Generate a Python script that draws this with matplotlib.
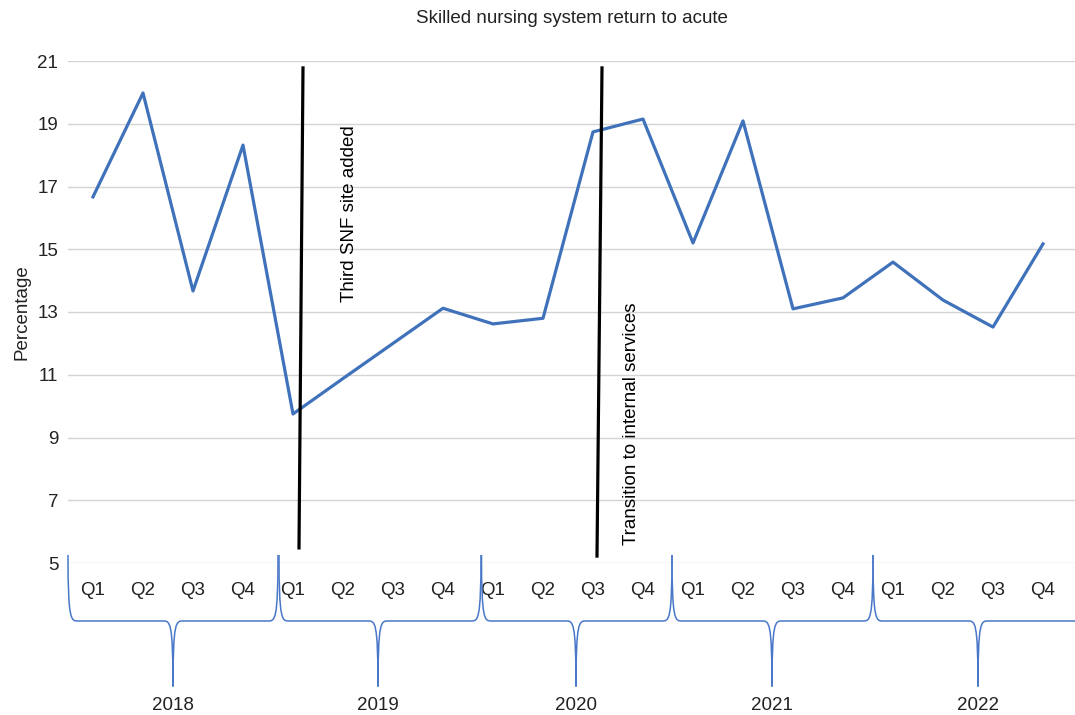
import matplotlib
matplotlib.use("Agg")
import matplotlib.pyplot as plt
import matplotlib.transforms as mtransforms
from matplotlib.path import Path
from matplotlib.patches import PathPatch

plt.rcParams['font.family'] = ['Liberation Sans', 'DejaVu Sans']

# Quarterly return-to-acute rate (%)
quarters = ["Q1", "Q2", "Q3", "Q4"] * 5
years = ["2018", "2019", "2020", "2021", "2022"]
rates = [16.67, 19.98, 13.67, 18.32,
         9.75, 10.88, 12.0, 13.12,
         12.62, 12.8, 18.74, 19.15,
         15.2, 19.09, 13.1, 13.45,
         14.59, 13.38, 12.52, 15.17]

# Event markers: (x top, y top, x bottom, y bottom), label, label position
events = [
    ((4.2, 20.78, 4.12, 5.48), "Third SNF site added", (5.14, 16.12)),
    ((10.18, 20.78, 10.08, 5.22), "Transition to internal services", (10.76, 9.45)),
]

# Year brace spans on the quarter axis (start, middle, end)
brace_starts = [-0.5, 3.72, 7.77, 11.58, 15.6]
brace_mids = [1.6, 5.7, 9.66, 13.58, 17.7]
brace_ends = [3.7, 7.76, 11.58, 15.6, 19.9]

FS = 13.5

fig = plt.figure(figsize=(10.75, 7.15), dpi=100)
ax = fig.add_axes([68 / 1075, 1 - 563 / 715, 1 - 68 / 1075, 502 / 715])

x = list(range(len(rates)))
ax.plot(x, rates, color="#3F72BA", linewidth=2.3, zorder=3)

for (x0, y0, x1, y1), label, (tx, ty) in events:
    ax.plot([x0, x1], [y0, y1], color="black", linewidth=2.3, zorder=4, clip_on=False)
    ax.text(tx, ty, label, rotation=90, ha="center", va="center", fontsize=FS)

ax.set_xlim(-0.5, 19.64)
ax.set_ylim(5, 21)
ax.set_yticks(range(5, 22, 2))
ax.set_xticks(x)
ax.set_xticklabels(quarters)
ax.tick_params(axis="both", length=0, labelsize=FS, colors="#222222")
ax.tick_params(axis="x", pad=14)
ax.tick_params(axis="y", pad=7)
ax.grid(axis="y", color="#d4d4d4", linewidth=1)
ax.set_axisbelow(True)
for s in ax.spines.values():
    s.set_visible(False)

ax.set_ylabel("Percentage", fontsize=FS, labelpad=5, color="#222222")
fig.text(0.532, 0.974, "Skilled nursing system return to acute", ha="center",
         va="center", fontsize=FS, color="#222222")

# Curly braces grouping quarters into years
trans = mtransforms.blended_transform_factory(ax.transData, ax.transAxes)
top, mid, tip, r = 0.016, -0.1155, -0.246, 0.2
for x0, xm, x1, yr in zip(brace_starts, brace_mids, brace_ends, years):
    verts = [
        (x0, top), (x0, mid), (x0 + 0.3 * r, mid), (x0 + r, mid),
        (xm - r, mid),
        (xm - 0.3 * r, mid), (xm, mid), (xm, tip),
        (xm, mid), (xm + 0.3 * r, mid), (xm + r, mid),
        (x1 - r, mid),
        (x1 - 0.3 * r, mid), (x1, mid), (x1, top),
    ]
    codes = [Path.MOVETO, Path.CURVE4, Path.CURVE4, Path.CURVE4,
             Path.LINETO,
             Path.CURVE4, Path.CURVE4, Path.CURVE4,
             Path.CURVE4, Path.CURVE4, Path.CURVE4,
             Path.LINETO,
             Path.CURVE4, Path.CURVE4, Path.CURVE4]
    ax.add_patch(PathPatch(Path(verts, codes), facecolor="none", edgecolor="#4A78C8",
                           linewidth=1.1, transform=trans, clip_on=False))
    ax.text(xm, -0.283, yr, transform=trans, ha="center", va="center",
            fontsize=FS, color="#222222")

fig.savefig("out.png", dpi=100)
